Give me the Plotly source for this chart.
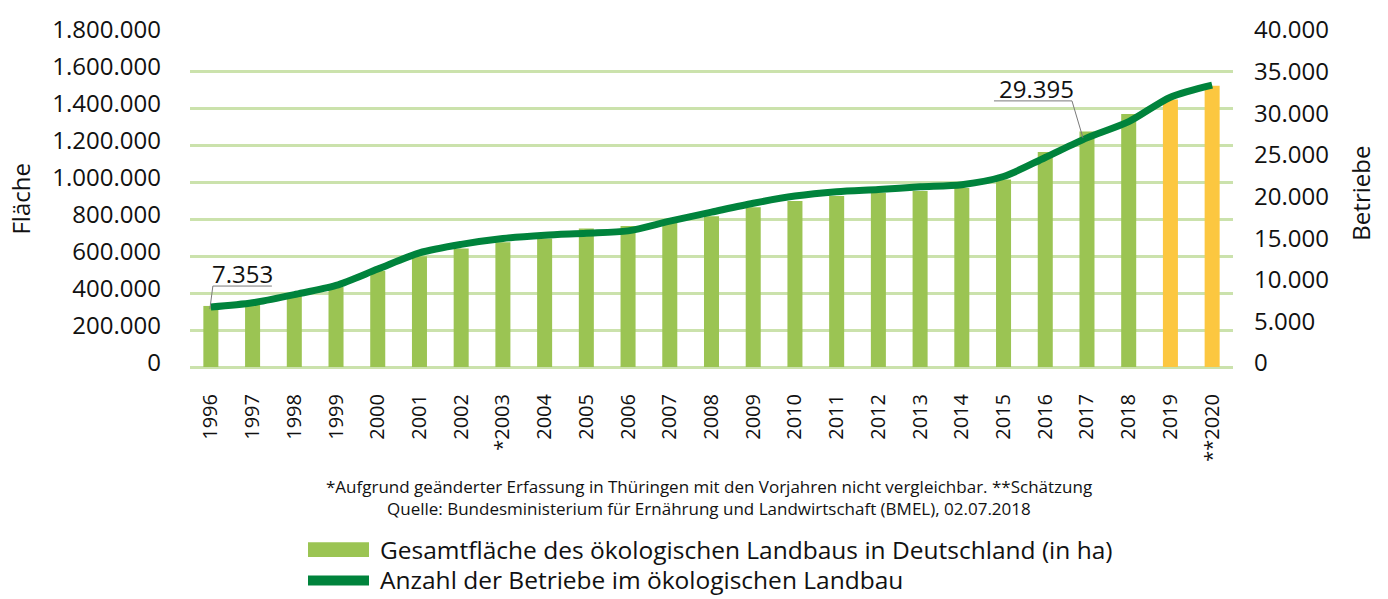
import plotly.graph_objects as go

years = ["1996", "1997", "1998", "1999", "2000", "2001", "2002", "*2003", "2004", "2005",
         "2006", "2007", "2008", "2009", "2010", "2011", "2012", "2013", "2014", "2015",
         "2016", "2017", "2018", "2019", "**2020"]

flaeche = [330000, 350000, 385000, 432000, 520000, 599000, 640000, 675000, 695000, 748000,
           762000, 795000, 815000, 864000, 897000, 924000, 942000, 952000, 968000, 1014000,
           1162000, 1273000, 1367000, 1446000, 1520000]

betriebe = [7200, 7710, 8700, 9800, 11760, 13710, 14730, 15440, 15830, 16060,
            16350, 17520, 18600, 19670, 20530, 21050, 21320, 21640, 21900, 22880,
            25170, 27520, 29470, 32410, 33870]

estimated = ["2019", "**2020"]

left_ticks = [0, 200000, 400000, 600000, 800000, 1000000, 1200000, 1400000, 1600000, 1800000]
right_ticks = [0, 5000, 10000, 15000, 20000, 25000, 30000, 35000, 40000]

label_years = ["1996", "2017"]
label_texts = ["7.353", "29.395"]

GREEN = "#9BC453"
YELLOW = "#FCC740"
DARK = "#00833C"
GRID = "#CBE2AC"
FONT = "Open Sans"

bar_colors = [YELLOW if y in estimated else GREEN for y in years]

fig = go.Figure()
fig.add_trace(go.Bar(x=years, y=flaeche, marker=dict(color=bar_colors, line=dict(width=0)),
                     name="Gesamtfläche des ökologischen Landbaus in Deutschland (in ha)",
                     showlegend=False, yaxis="y"))
fig.add_trace(go.Scatter(x=years, y=betriebe, mode="lines",
                         line=dict(color=DARK, width=7, shape="spline", smoothing=0.8),
                         name="Anzahl der Betriebe im ökologischen Landbau",
                         showlegend=False, yaxis="y2"))

W, H = 1388, 599
L, R, T, B = 190, 155, 27, 232
pw, ph = W - L - R, H - T - B


def px(x):
    return (x - L) / pw


def py(y):
    return (H - B - y) / ph


annotations = []
shapes = []

# value labels with leader lines
i0 = years.index(label_years[0])
annotations.append(dict(x=i0, y=betriebe[i0], xref="x", yref="y2", text=label_texts[0],
                        showarrow=False, xanchor="left", yanchor="middle", xshift=-1, yshift=34,
                        font=dict(family=FONT, size=24, color="#111")))
shapes.append(dict(type="path", xref="x", yref="y2", xsizemode="pixel", ysizemode="pixel",
                   xanchor=i0, yanchor=betriebe[i0], path="M -1,-2 L 2,21 L 61,21",
                   line=dict(color="#7a7a7a", width=1)))
i1 = years.index(label_years[1])
annotations.append(dict(x=i1, y=betriebe[i1], xref="x", yref="y2", text=label_texts[1],
                        showarrow=False, xanchor="center", yanchor="middle", xshift=-50, yshift=49,
                        font=dict(family=FONT, size=24, color="#111")))
shapes.append(dict(type="path", xref="x", yref="y2", xsizemode="pixel", ysizemode="pixel",
                   xanchor=i1, yanchor=betriebe[i1], path="M -4,0 L -15,37 L -93,37",
                   line=dict(color="#7a7a7a", width=1)))

# axis titles
annotations.append(dict(x=px(21), y=py(196), xref="paper", yref="paper", text="Fläche",
                        textangle=-90, showarrow=False, xanchor="center", yanchor="middle",
                        font=dict(family=FONT, size=24, color="#111")))
annotations.append(dict(x=px(1361), y=py(190), xref="paper", yref="paper", text="Betriebe",
                        textangle=-90, showarrow=False, xanchor="center", yanchor="middle",
                        font=dict(family=FONT, size=24, color="#111")))

# footnotes
annotations.append(dict(x=px(709), y=py(489), xref="paper", yref="paper",
                        text="*Aufgrund geänderter Erfassung in Thüringen mit den Vorjahren nicht vergleichbar. **Schätzung",
                        showarrow=False, xanchor="center", yanchor="middle",
                        font=dict(family=FONT, size=17, color="#111")))
annotations.append(dict(x=px(709), y=py(511), xref="paper", yref="paper",
                        text="Quelle: Bundesministerium für Ernährung und Landwirtschaft (BMEL), 02.07.2018",
                        showarrow=False, xanchor="center", yanchor="middle",
                        font=dict(family=FONT, size=17, color="#111")))

# manual legend
shapes.append(dict(type="rect", xref="paper", yref="paper", x0=px(308), x1=px(369),
                   y0=py(561), y1=py(546), fillcolor=GREEN, line=dict(width=0)))
shapes.append(dict(type="rect", xref="paper", yref="paper", x0=px(308), x1=px(369),
                   y0=py(590), y1=py(580), fillcolor=DARK, line=dict(width=0)))
annotations.append(dict(x=px(379), y=py(553), xref="paper", yref="paper",
                        text=fig.data[0].name, showarrow=False, xanchor="left", yanchor="middle",
                        borderpad=0, font=dict(family=FONT, size=24.5, color="#111")))
annotations.append(dict(x=px(379), y=py(583.5), xref="paper", yref="paper",
                        text=fig.data[1].name, showarrow=False, xanchor="left", yanchor="middle",
                        borderpad=0, font=dict(family=FONT, size=24.5, color="#111")))

fig.update_layout(
    width=W, height=H,
    margin=dict(l=L, r=R, t=T, b=B, pad=0),
    paper_bgcolor="white", plot_bgcolor="white",
    separators=",.",
    bargap=0.64,
    font=dict(family=FONT, color="#111"),
    xaxis=dict(type="category", tickangle=-90, showgrid=False, showline=False, zeroline=False,
               ticks="", tickfont=dict(family=FONT, size=20, color="#111"),
               ticklabelstandoff=22, range=[-0.5, len(years) - 0.5]),
    yaxis=dict(range=[0, 1800000], tickvals=left_ticks, tickformat=",d",
               showgrid=True, gridcolor=GRID, gridwidth=2.5, zeroline=True,
               zerolinecolor=GRID, zerolinewidth=2.5, showline=False, ticks="",
               tickfont=dict(family=FONT, size=24, color="#111"), ticklabelstandoff=28,
               ticklabelshift=-4),
    yaxis2=dict(range=[0, 40000], tickvals=right_ticks, tickformat=",d", overlaying="y",
                side="right", showgrid=False, zeroline=False, showline=False, ticks="",
                tickfont=dict(family=FONT, size=24, color="#111"), ticklabelstandoff=20,
                ticklabelshift=-4),
    annotations=annotations,
    shapes=shapes,
    showlegend=False,
)

fig.write_html("out.html")
